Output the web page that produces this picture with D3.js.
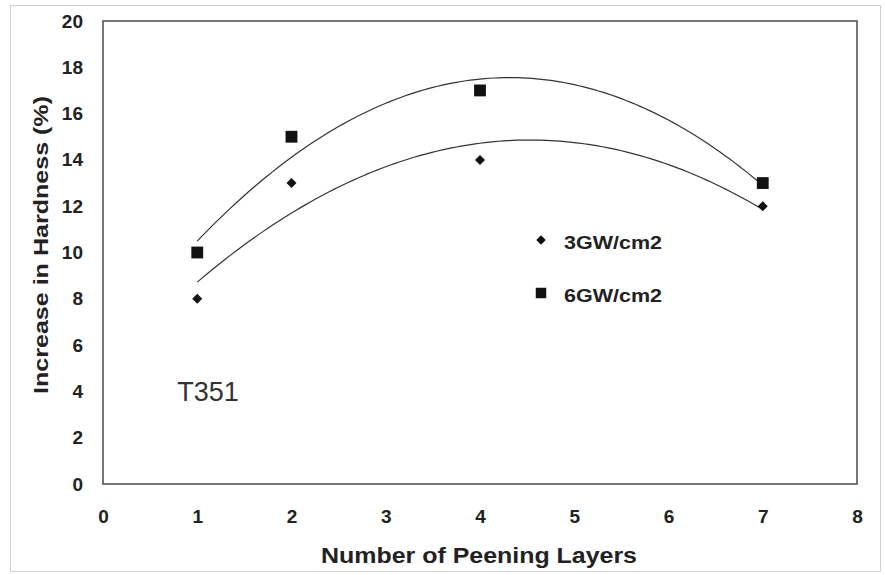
<!DOCTYPE html>
<html><head><meta charset="utf-8">
<script src="https://cdn.jsdelivr.net/npm/d3@7"></script>
<style>body{margin:0;background:#fff}svg{display:block}</style>
</head><body>
<svg id="c" width="885" height="575"></svg>
<script>
const layers = [1, 2, 4, 7];
const series3 = [8, 13, 14, 12];
const series6 = [10, 15, 17, 13];
const xTicks = [0,1,2,3,4,5,6,7,8];
const yTicks = [0,2,4,6,8,10,12,14,16,18,20];
const seriesNames = ["3GW/cm2", "6GW/cm2"];

const svg = d3.select("#c");
const M = {l:103, t:21, r:857, b:484};
const x = d3.scaleLinear().domain([0,8]).range([M.l, M.r]);
const y = d3.scaleLinear().domain([0,20]).range([M.b, M.t]);

// outer frame
svg.append("rect").attr("x",10.5).attr("y",5.5).attr("width",870).attr("height",566)
  .attr("fill","none").attr("stroke","#d0d0d0").attr("stroke-width",1);

// plot frame
svg.append("rect").attr("x",M.l).attr("y",M.t).attr("width",M.r-M.l).attr("height",M.b-M.t)
  .attr("fill","none").attr("stroke","#555").attr("stroke-width",1.6);

const font = "Arial, 'Liberation Sans', sans-serif";
const xAxis = svg.append("g").attr("transform",`translate(0,${M.b})`)
  .call(d3.axisBottom(x).tickValues(xTicks).tickSize(0).tickPadding(26).tickFormat(d3.format("d")));
const yAxis = svg.append("g").attr("transform",`translate(${M.l},0)`)
  .call(d3.axisLeft(y).tickValues(yTicks).tickSize(0).tickPadding(20).tickFormat(d3.format("d")));
[xAxis,yAxis].forEach(a=>{
  a.select(".domain").remove();
  a.selectAll("text").attr("font-family",font).attr("font-weight","bold").attr("font-size",19).attr("fill","#222");
});

// quadratic least squares fit (trendline of each series)
function quadFit(xs, ys){
  let S=[0,0,0,0,0], T=[0,0,0];
  xs.forEach((xi,i)=>{ for(let k=0;k<5;k++) S[k]+=Math.pow(xi,k); for(let k=0;k<3;k++) T[k]+=ys[i]*Math.pow(xi,k); });
  const A=[[S[0],S[1],S[2],T[0]],[S[1],S[2],S[3],T[1]],[S[2],S[3],S[4],T[2]]];
  for(let i=0;i<3;i++){ for(let j=i+1;j<3;j++){ const f=A[j][i]/A[i][i]; for(let k=i;k<4;k++) A[j][k]-=f*A[i][k]; } }
  const c=[0,0,0];
  for(let i=2;i>=0;i--){ let s=A[i][3]; for(let k=i+1;k<3;k++) s-=A[i][k]*c[k]; c[i]=s/A[i][i]; }
  return xv=>c[0]+c[1]*xv+c[2]*xv*xv;
}
const line = d3.line().x(d=>x(d[0])).y(d=>y(d[1]));
[series3, series6].forEach(s=>{
  const f = quadFit(layers, s);
  const pts = d3.range(0,121).map(i=>{const xv=1+6*i/120; return [xv, f(xv)];});
  svg.append("path").attr("d", line(pts)).attr("fill","none").attr("stroke","#333").attr("stroke-width",1.2);
});

svg.append("g").selectAll("path").data(layers).join("path")
  .attr("transform",(d,i)=>`translate(${x(d)},${y(series3[i])}) rotate(45)`)
  .attr("d", d3.symbol().type(d3.symbolSquare).size(50)).attr("fill","#111");
svg.append("g").selectAll("path").data(layers).join("path")
  .attr("transform",(d,i)=>`translate(${x(d)},${y(series6[i])})`)
  .attr("d", d3.symbol().type(d3.symbolSquare).size(140)).attr("fill","#111");

// legend
svg.append("path").attr("transform","translate(541,240) rotate(45)").attr("d", d3.symbol().type(d3.symbolSquare).size(45)).attr("fill","#111");
svg.append("path").attr("transform","translate(541,293)").attr("d", d3.symbol().type(d3.symbolSquare).size(110)).attr("fill","#111");
svg.append("text").attr("x",564).attr("y",249).text(seriesNames[0]).attr("textLength",98).attr("lengthAdjust","spacingAndGlyphs")
  .attr("font-family",font).attr("font-weight","bold").attr("font-size",18).attr("fill","#222");
svg.append("text").attr("x",564).attr("y",302).text(seriesNames[1]).attr("textLength",98).attr("lengthAdjust","spacingAndGlyphs")
  .attr("font-family",font).attr("font-weight","bold").attr("font-size",18).attr("fill","#222");

svg.append("text").attr("x",208).attr("y",401).attr("text-anchor","middle").text("T351")
  .attr("font-family",font).attr("font-size",27).attr("fill","#333");

svg.append("text").attr("x",479).attr("y",563).attr("text-anchor","middle").text("Number of Peening Layers")
  .attr("textLength",316).attr("lengthAdjust","spacingAndGlyphs")
  .attr("font-family",font).attr("font-weight","bold").attr("font-size",22).attr("fill","#222");
svg.append("text").attr("transform","translate(48,245) rotate(-90)").attr("text-anchor","middle").text("Increase in Hardness (%)")
  .attr("textLength",298).attr("lengthAdjust","spacingAndGlyphs")
  .attr("font-family",font).attr("font-weight","bold").attr("font-size",20).attr("fill","#222");
</script>
</body></html>
